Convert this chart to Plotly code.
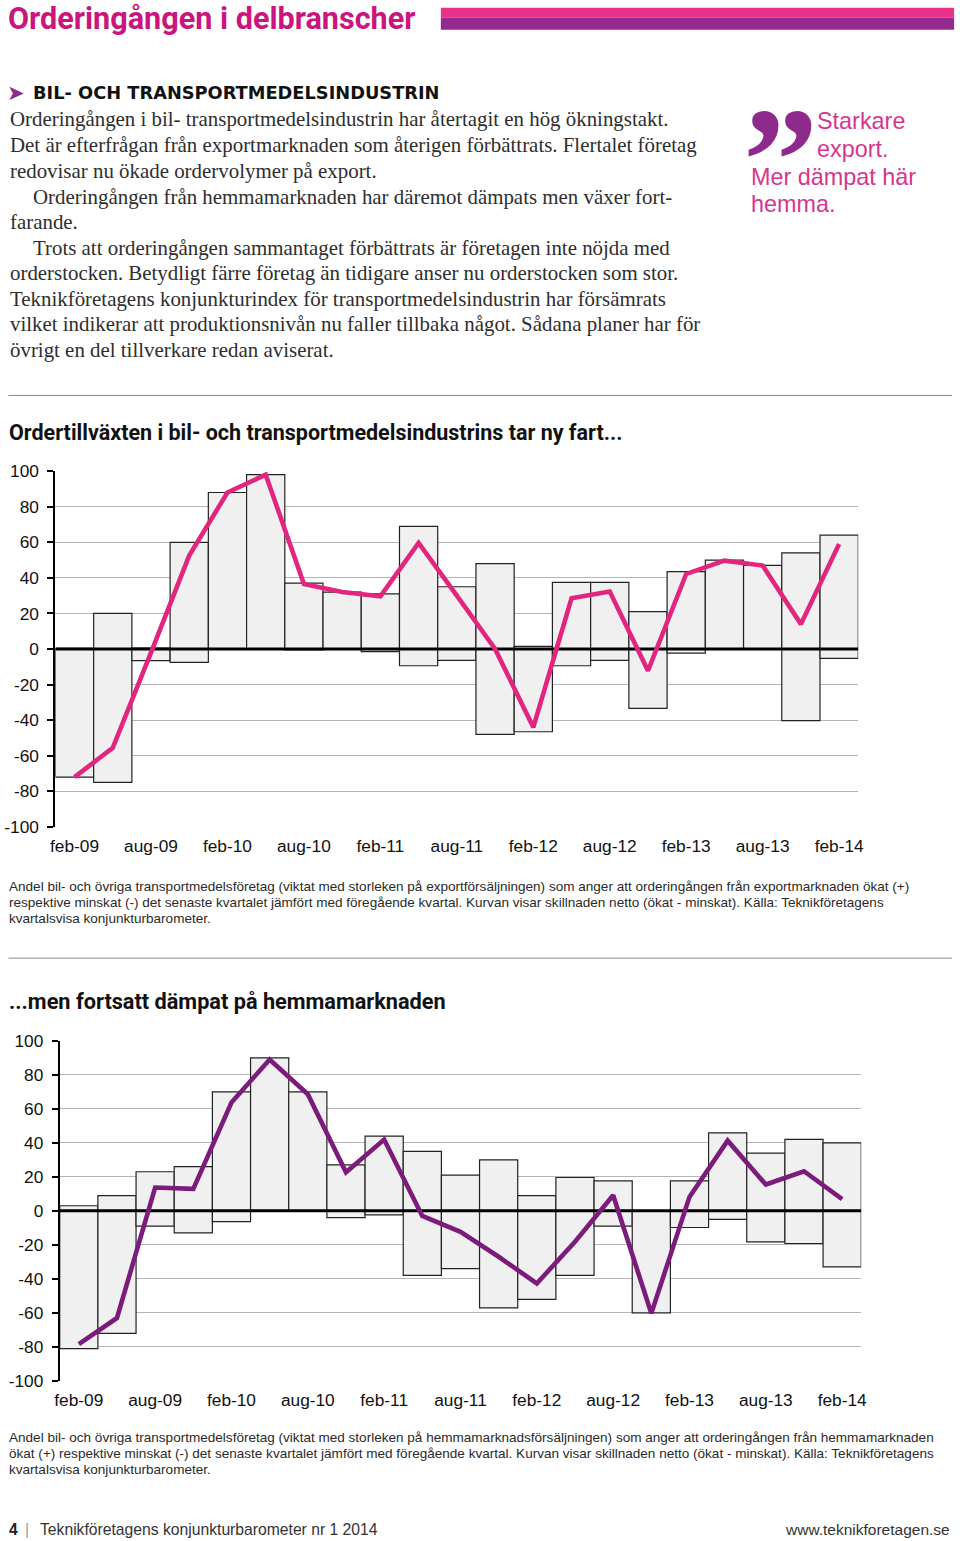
import plotly.graph_objects as go

W, H = 960, 1541

# ---------------- data ----------------
quarters = ["feb-09", "maj-09", "aug-09", "nov-09", "feb-10", "maj-10", "aug-10", "nov-10",
            "feb-11", "maj-11", "aug-11", "nov-11", "feb-12", "maj-12", "aug-12", "nov-12",
            "feb-13", "maj-13", "aug-13", "nov-13", "feb-14"]
tick_labels = ["feb-09", "aug-09", "feb-10", "aug-10", "feb-11", "aug-11",
               "feb-12", "aug-12", "feb-13", "aug-13", "feb-14"]

export_up = [0.4, 20, 0.5, 60, 88, 98, 37, 32, 31, 69, 35, 48, 1.5, 37.5, 37.5, 21, 43.5, 50, 47, 54, 64]
export_down = [-72, -75, -6.5, -7.5, 0, 0, -0.5, 0, -1.5, -9.4, -6.4, -48, -46.5, -9.4, -6.4, -33.4, -2.3, 0, 0, -40.3, -5.3]
export_net = [-72, -55.5, -2, 52.5, 88, 98, 36.6, 32, 29.6, 59.7, 30, 0, -44, 28.5, 32.3, -12.2, 42.2, 49.7, 46.9, 14, 59]

home_up = [3, 9, 23, 26, 70, 90, 70, 27, 44, 35, 21, 30, 9, 19.6, 17.6, 0, 17.6, 45.8, 34, 42, 40]
home_down = [-81, -72, -9, -13, -6.3, 0, 0, -4, -2.4, -38, -34, -57, -52, -38, -9, -60, -9.8, -5, -18.2, -19.2, -33]
home_net = [-78.4, -63, 13.7, 12.9, 63.7, 89, 68.6, 22.7, 41.9, -3, -12.3, -27, -42.7, -18.2, 9.2, -60.3, 8.2, 41.3, 15.5, 23.3, 6.9]

y_ticks = [100, 80, 60, 40, 20, 0, -20, -40, -60, -80, -100]

# ---------------- helpers (page pixel -> paper, compensating capture framing) ----------------
AX, SX = 4.5, 0.990
AY, SY = 9.3, 0.9876

def px(x):
    return ((x - AX) / SX) / W

def py(y):
    return 1 - ((y - AY) / SY) / H

PINK = "#e2267f"
PURPLE = "#7b1b7c"
TITLE_PINK = "#c9157d"

fig = go.Figure()

xs = list(range(len(quarters)))
tickpos = [quarters.index(t) for t in tick_labels]

def add_chart(up, down, net, color, xa, ya):
    fig.add_trace(go.Bar(
        x=xs, y=[u - d for u, d in zip(up, down)], base=down, width=1,
        marker=dict(color="#f0f0f0", line=dict(color="#222222", width=1.2)),
        xaxis=xa, yaxis=ya, showlegend=False, hoverinfo="skip"))
    fig.add_trace(go.Scatter(
        x=[xs[0] - 0.5, xs[-1] + 0.5], y=[0, 0], mode="lines",
        line=dict(color="#000000", width=3), xaxis=xa, yaxis=ya,
        showlegend=False, hoverinfo="skip", cliponaxis=False))
    fig.add_trace(go.Scatter(
        x=xs, y=net, mode="lines", line=dict(color=color, width=4.6),
        xaxis=xa, yaxis=ya, showlegend=False, hoverinfo="skip"))

add_chart(export_up, export_down, export_net, PINK, "x", "y")
add_chart(home_up, home_down, home_net, PURPLE, "x2", "y2")

axis_font = dict(family="Liberation Sans, Arial, sans-serif", size=17.3, color="#111111")

def xaxis(dom, anchor):
    return dict(domain=dom, anchor=anchor, range=[xs[0] - 0.5, xs[-1] + 0.5],
                tickmode="array", tickvals=tickpos, ticktext=tick_labels,
                showgrid=False, zeroline=False, showline=False, ticks="",
                ticklabelstandoff=7,
                tickfont=axis_font, fixedrange=True)

def yaxis(dom, anchor):
    return dict(domain=dom, anchor=anchor, range=[-100, 100],
                tickmode="array", tickvals=y_ticks, ticktext=[str(v) for v in y_ticks],
                showgrid=True, gridcolor="#b5b5b5", gridwidth=1.3,
                zeroline=False, showline=True, linecolor="#000000", linewidth=2,
                ticks="outside", ticklen=6, tickcolor="#000000", tickwidth=1.5,
                ticklabelstandoff=5,
                tickfont=axis_font, fixedrange=True)

fig.update_layout(
    width=W, height=H, margin=dict(l=0, r=0, t=0, b=0),
    paper_bgcolor="white", plot_bgcolor="white", barmode="overlay",
    xaxis=xaxis([px(55), px(859)], "y"),
    yaxis=yaxis([py(826.7), py(470.7)], "x"),
    xaxis2=xaxis([px(59.3), px(862)], "y2"),
    yaxis2=yaxis([py(1381), py(1040.7)], "x2"),
)

# ---------------- page decoration ----------------
shapes = [
    dict(type="rect", xref="paper", yref="paper", x0=px(441), x1=px(955), y0=py(17), y1=py(7),
         fillcolor="#e8318b", line=dict(width=0)),
    dict(type="rect", xref="paper", yref="paper", x0=px(441), x1=px(955), y0=py(29), y1=py(17),
         fillcolor="#942a8f", line=dict(width=0)),
    dict(type="line", xref="paper", yref="paper", x0=px(8), x1=px(953), y0=py(395), y1=py(395),
         line=dict(color="#8a8a8a", width=1)),
    dict(type="line", xref="paper", yref="paper", x0=px(8), x1=px(953), y0=py(958), y1=py(958),
         line=dict(color="#8a8a8a", width=1)),
]
fig.update_layout(shapes=shapes)

annotations = []

def text(x, y, s, size, color="#222222", family="Liberation Sans, Arial, sans-serif",
         anchor="left", weight="normal", yanchor="middle"):
    annotations.append(dict(
        x=px(x), y=py(y), xref="paper", yref="paper", text=s, showarrow=False,
        xanchor=anchor, yanchor=yanchor, align=anchor,
        font=dict(family=family, size=size, color=color, weight=weight)))

# page title
text(6, 18, "Orderingången i delbranscher", 30.6, TITLE_PINK,
     "Liberation Sans Narrow, Roboto, sans-serif", weight="bold")

# section heading
text(5, 92, "➤", 21, "#8e2a8e", "DejaVu Sans, sans-serif")
text(31, 92, "BIL- OCH TRANSPORTMEDELSINDUSTRIN", 17.8, "#111111",
     "DejaVu Sans, sans-serif", weight="bold")

body = [
    (8, 118, "Orderingången i bil- transportmedelsindustrin har återtagit en hög ökningstakt."),
    (8, 144, "Det är efterfrågan från exportmarknaden som återigen förbättrats. Flertalet företag"),
    (8, 170, "redovisar nu ökade ordervolymer på export."),
    (31, 196, "Orderingången från hemmamarknaden har däremot dämpats men växer fort-"),
    (8, 221, "farande."),
    (31, 247, "Trots att orderingången sammantaget förbättrats är företagen inte nöjda med"),
    (8, 272, "orderstocken. Betydligt färre företag än tidigare anser nu orderstocken som stor."),
    (8, 298, "Teknikföretagens konjunkturindex för transportmedelsindustrin har försämrats"),
    (8, 323, "vilket indikerar att produktionsnivån nu faller tillbaka något. Sådana planer har för"),
    (8, 349, "övrigt en del tillverkare redan aviserat."),
]
for x, y, s in body:
    text(x, y, s, 20.9, "#2e2e2e", "Liberation Serif, DejaVu Serif, serif")

# pull quote
text(742, 74, "”", 150, "#8e2a8b", "Liberation Serif, serif", weight="bold", yanchor="top")
QUOTE = "#d6358f"
text(816, 120, "Starkare", 23.4, QUOTE)
text(816, 148, "export.", 23.4, QUOTE)
text(750, 176, "Mer dämpat här", 23.4, QUOTE)
text(750, 203, "hemma.", 23.4, QUOTE)

# chart titles
text(7, 432, "Ordertillväxten i bil- och transportmedelsindustrins tar ny fart...", 21.5, "#111111",
     "Liberation Sans Narrow, Roboto, sans-serif", weight="bold")
text(7, 1001, "...men fortsatt dämpat på hemmamarknaden", 21.7, "#111111",
     "Liberation Sans Narrow, Roboto, sans-serif", weight="bold")

cap1 = [
    "Andel bil- och övriga transportmedelsföretag (viktat med storleken på exportförsäljningen) som anger att orderingången från exportmarknaden ökat (+)",
    "respektive minskat (-) det senaste kvartalet jämfört med föregående kvartal. Kurvan visar skillnaden netto (ökat - minskat). Källa: Teknikföretagens",
    "kvartalsvisa konjunkturbarometer.",
]
cap2 = [
    "Andel bil- och övriga transportmedelsföretag (viktat med storleken på hemmamarknadsförsäljningen) som anger att orderingången från hemmamarknaden",
    "ökat (+) respektive minskat (-) det senaste kvartalet jämfört med föregående kvartal. Kurvan visar skillnaden netto (ökat - minskat). Källa: Teknikföretagens",
    "kvartalsvisa konjunkturbarometer.",
]
for i, s in enumerate(cap1):
    text(7, 886 + 16 * i, s, 13.55, "#2a2a2a")
for i, s in enumerate(cap2):
    text(7, 1438 + 16 * i, s, 13.55, "#2a2a2a")

# footer
text(7, 1530, "4", 15.6, "#222222", weight="bold")
text(23, 1530, "|", 15.6, "#9a9a9a")
text(38, 1530, "Teknikföretagens konjunkturbarometer nr 1 2014", 15.7, "#333333")
text(953, 1530, "www.teknikforetagen.se", 15.5, "#333333", anchor="right")

fig.update_layout(annotations=annotations)

fig.write_html("out.html", include_plotlyjs=True, config={"displayModeBar": False},
               post_script="document.body.style.margin='0';document.body.style.overflow='hidden';")
